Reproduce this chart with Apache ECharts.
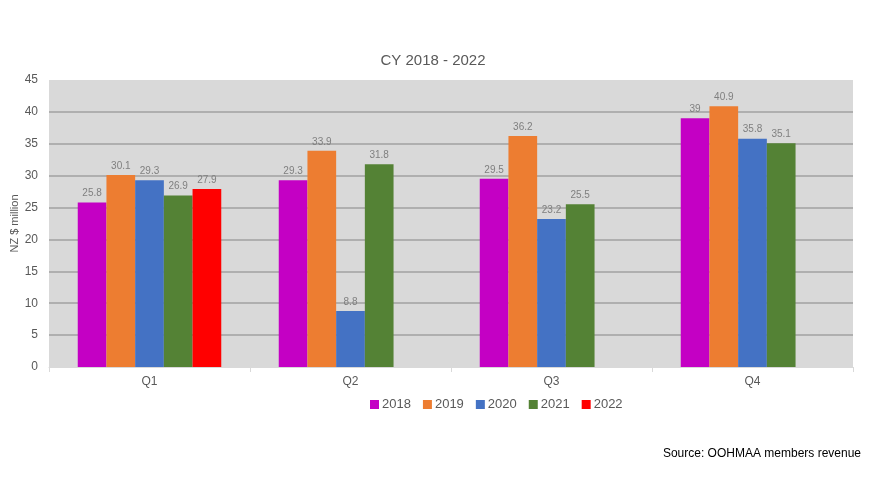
<!DOCTYPE html>
<html>
<head>
<meta charset="utf-8">
<script src="https://cdn.jsdelivr.net/npm/echarts@6/dist/echarts.min.js"></script>
<style>
	html, body { margin: 0; padding: 0; background: #fff; }
	#chart { width: 888px; height: 478px; }
</style>
</head>
<body>
<div id="chart"></div>
<script>
// quarters and yearly revenue (NZ $ million)
var quarters = ['Q1', 'Q2', 'Q3', 'Q4'];
var years = ['2018', '2019', '2020', '2021', '2022'];
var v2018 = [25.8, 29.3, 29.5, 39];
var v2019 = [30.1, 33.9, 36.2, 40.9];
var v2020 = [29.3, 8.8, 23.2, 35.8];
var v2021 = [26.9, 31.8, 25.5, 35.1];
var v2022 = [27.9, null, null, null];
var yTicks = { min: 0, max: 45, interval: 5 };

var colors = ['#c400c4', '#ed7d31', '#4472c4', '#548235', '#ff0000'];
var values = [v2018, v2019, v2020, v2021, v2022];

var series = [];
for (var i = 0; i < years.length; i++) {
	series.push({
		name: years[i],
		type: 'bar',
		data: values[i],
		barGap: '0%',
		barCategoryGap: '28.6%',
		itemStyle: { color: colors[i] },
		label: {
			show: true,
			position: 'top',
			distance: 4,
			color: '#7f7f7f',
			fontSize: 10,
			fontFamily: 'Liberation Sans'
		}
	});
}

var myChart = echarts.init(document.getElementById('chart'));

var option = {
	animation: false,
	color: colors,
	title: {
		text: 'CY 2018 - 2022',
		left: 428,
		top: 48,
		textAlign: 'center',
		textStyle: {
			color: '#595959',
			fontSize: 15,
			fontWeight: 'normal',
			fontFamily: 'Liberation Sans'
		}
	},
	legend: {
		left: 365,
		top: 393,
		itemWidth: 9,
		itemHeight: 9,
		itemGap: 12,
		icon: 'rect',
		textStyle: {
			color: '#595959',
			fontSize: 13,
			fontFamily: 'Liberation Sans',
			padding: [0, 0, 0, -2]
		},
		data: years
	},
	graphic: [{
		type: 'text',
		right: 27,
		top: 448,
		style: {
			text: 'Source: OOHMAA members revenue',
			fill: '#000',
			font: '12px "Liberation Sans"'
		}
	}],
	grid: {
		left: 49,
		right: 35,
		top: 80,
		bottom: 111,
		containLabel: false,
		outerBoundsMode: 'none',
		show: true,
		backgroundColor: '#d9d9d9',
		borderWidth: 0
	},
	xAxis: {
		type: 'category',
		data: quarters,
		axisLine: { lineStyle: { color: '#d9d9d9', width: 1 } },
		axisTick: { show: true, length: 5, lineStyle: { color: '#d9d9d9' } },
		axisLabel: {
			color: '#595959',
			fontSize: 12,
			margin: 9,
			fontFamily: 'Liberation Sans'
		}
	},
	yAxis: {
		type: 'value',
		min: yTicks.min,
		max: yTicks.max,
		interval: yTicks.interval,
		name: 'NZ $ million',
		nameLocation: 'middle',
		nameGap: 29,
		nameMoveOverlap: false,
		nameTextStyle: {
			color: '#595959',
			fontSize: 11,
			fontFamily: 'Liberation Sans'
		},
		axisLine: { show: false },
		axisTick: { show: false },
		axisLabel: {
			color: '#595959',
			fontSize: 12,
			margin: 11,
			fontFamily: 'Liberation Sans'
		},
		splitLine: {
			show: true,
			showMinLine: false,
			showMaxLine: false,
			lineStyle: { color: '#a0a0a0', width: 1.5 }
		}
	},
	series: series
};
myChart.setOption(option);
</script>
</body>
</html>
